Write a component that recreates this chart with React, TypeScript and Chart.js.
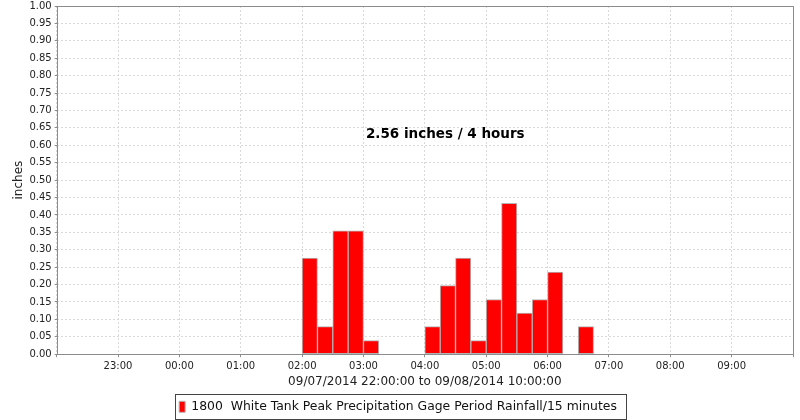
import React, { useEffect, useRef } from 'react';
import { Chart, registerables } from 'chart.js';

Chart.register(...registerables);

// ---- data ----
const rangeStartHour = 22; // 09/07/2014 22:00
const rangeHours = 12;     // to 09/08/2014 10:00
const periodStarts = [
  '02:00', '02:15', '02:30', '02:45', '03:00', '03:15', '03:30', '03:45',
  '04:00', '04:15', '04:30', '04:45', '05:00', '05:15', '05:30', '05:45',
  '06:00', '06:15', '06:30',
];
const rainfall = [
  0.276, 0.079, 0.354, 0.354, 0.039, 0, 0, 0,
  0.079, 0.197, 0.276, 0.039, 0.157, 0.433, 0.118, 0.157,
  0.236, 0, 0.079,
];
const hourTickLabels = [
  '22:00', '23:00', '00:00', '01:00', '02:00', '03:00', '04:00',
  '05:00', '06:00', '07:00', '08:00', '09:00', '10:00',
];
const hiddenTickLabels = ['22:00', '10:00'];
const yMin = 0;
const yMax = 1;
const yStep = 0.05;
const periodMinutes = 15;
const seriesLabel = '1800  White Tank Peak Precipitation Gage Period Rainfall/15 minutes';
const xAxisTitle = '09/07/2014 22:00:00 to 09/08/2014 10:00:00';
const yAxisTitle = 'inches';
const annotationText = '2.56 inches / 4 hours';
const annotationAt = { time: '04:20', value: 0.63 };

const FONT = "'DejaVu Sans', sans-serif";

function hoursFromStart(t: string): number {
  const [hh, mm] = t.split(':').map(Number);
  return ((hh - rangeStartHour + 24) % 24) + mm / 60;
}

const plotFrame = {
  id: 'plotFrame',
  beforeDatasetsDraw(chart: any) {
    const { ctx, chartArea: a } = chart;
    ctx.save();
    ctx.strokeStyle = '#8c8c8c';
    ctx.lineWidth = 1;
    ctx.setLineDash([]);
    ctx.strokeRect(Math.round(a.left) + 0.5, Math.round(a.top) + 0.5,
      Math.round(a.right - a.left), Math.round(a.bottom - a.top));
    ctx.restore();
  },
};

const annotation = {
  id: 'annotationText',
  afterDatasetsDraw(chart: any) {
    const { ctx, scales } = chart;
    const x = scales.x.getPixelForValue(hoursFromStart(annotationAt.time));
    const y = scales.y.getPixelForValue(annotationAt.value);
    ctx.save();
    ctx.font = `bold 13.5px ${FONT}`;
    ctx.fillStyle = '#000';
    ctx.textAlign = 'center';
    ctx.textBaseline = 'middle';
    ctx.fillText(annotationText, x, y);
    ctx.restore();
  },
};

const legendFrame = {
  id: 'legendFrame',
  afterDraw(chart: any) {
    const lg = chart.legend;
    if (!lg || !lg.legendHitBoxes || !lg.legendHitBoxes.length) return;
    const hb = lg.legendHitBoxes[0];
    const { ctx } = chart;
    ctx.save();
    ctx.strokeStyle = '#444';
    ctx.lineWidth = 1;
    const l = Math.round(hb.left - 4) + 0.5;
    const t = Math.round(hb.top - 7) + 0.5;
    const w = Math.round(hb.width + 13);
    const h = Math.round(hb.height + 13);
    ctx.strokeRect(l, t, w, h);
    ctx.restore();
  },
};

export default function App() {
  const ref = useRef<HTMLCanvasElement | null>(null);

  useEffect(() => {
    document.body.style.margin = '0';
    if (!ref.current) return;
    const points = periodStarts.map((t, i) => ({
      x: hoursFromStart(t) + periodMinutes / 60 / 2,
      y: rainfall[i] > 0 ? rainfall[i] : null,
    }));
    const chart = new Chart(ref.current, {
      type: 'bar',
      data: {
        datasets: [
          {
            label: seriesLabel,
            data: points as any,
            backgroundColor: '#ff0000',
            borderColor: '#b4b4b4',
            borderWidth: 1,
            borderSkipped: false,
            barPercentage: 1,
            categoryPercentage: 1,
          },
        ],
      },
      options: {
        animation: false,
        responsive: false,
        maintainAspectRatio: false,
        layout: { padding: { left: 3, right: 7, top: 0, bottom: -3 } },
        scales: {
          x: {
            type: 'linear',
            min: 0,
            max: rangeHours,
            offset: false,
            grid: {
              offset: false,
              color: '#d9d9d9',
              tickColor: '#8c8c8c',
              tickLength: 3,
              drawTicks: true,
            },
            border: { display: false, dash: [2, 2] },
            ticks: {
              stepSize: 1,
              autoSkip: false,
              maxRotation: 0,
              padding: 3,
              color: '#222',
              font: { family: FONT, size: 10 },
              callback: (v: any) => {
                const lbl = hourTickLabels[Math.round(Number(v))];
                return hiddenTickLabels.includes(lbl) ? '' : lbl;
              },
            },
            title: {
              display: true,
              text: xAxisTitle,
              color: '#222',
              font: { family: FONT, size: 12 },
              padding: { top: -1, bottom: 6 },
            },
          },
          y: {
            min: yMin,
            max: yMax,
            grid: {
              color: '#d9d9d9',
              tickColor: '#8c8c8c',
              tickLength: 2,
            },
            border: { display: false, dash: [2, 2] },
            ticks: {
              stepSize: yStep,
              padding: 3,
              color: '#222',
              font: { family: FONT, size: 10, lineHeight: 0.6 },
              callback: (v: any) => Number(v).toFixed(2),
            },
            title: {
              display: true,
              text: yAxisTitle,
              color: '#222',
              font: { family: FONT, size: 12 },
              padding: { top: 9, bottom: 0 },
            },
          },
        },
        plugins: {
          legend: {
            position: 'bottom',
            labels: {
              boxWidth: 6,
              boxHeight: 11,
              padding: 6,
              color: '#111',
              font: { family: FONT, size: 12.4 },
            },
          },
          tooltip: { enabled: false },
        },
      },
      plugins: [plotFrame, annotation, legendFrame],
    });
    return () => chart.destroy();
  }, []);

  return (
    <div style={{ width: 800, height: 420, background: '#fff' }}>
      <canvas ref={ref} width={800} height={420} style={{ display: 'block' }} />
    </div>
  );
}
